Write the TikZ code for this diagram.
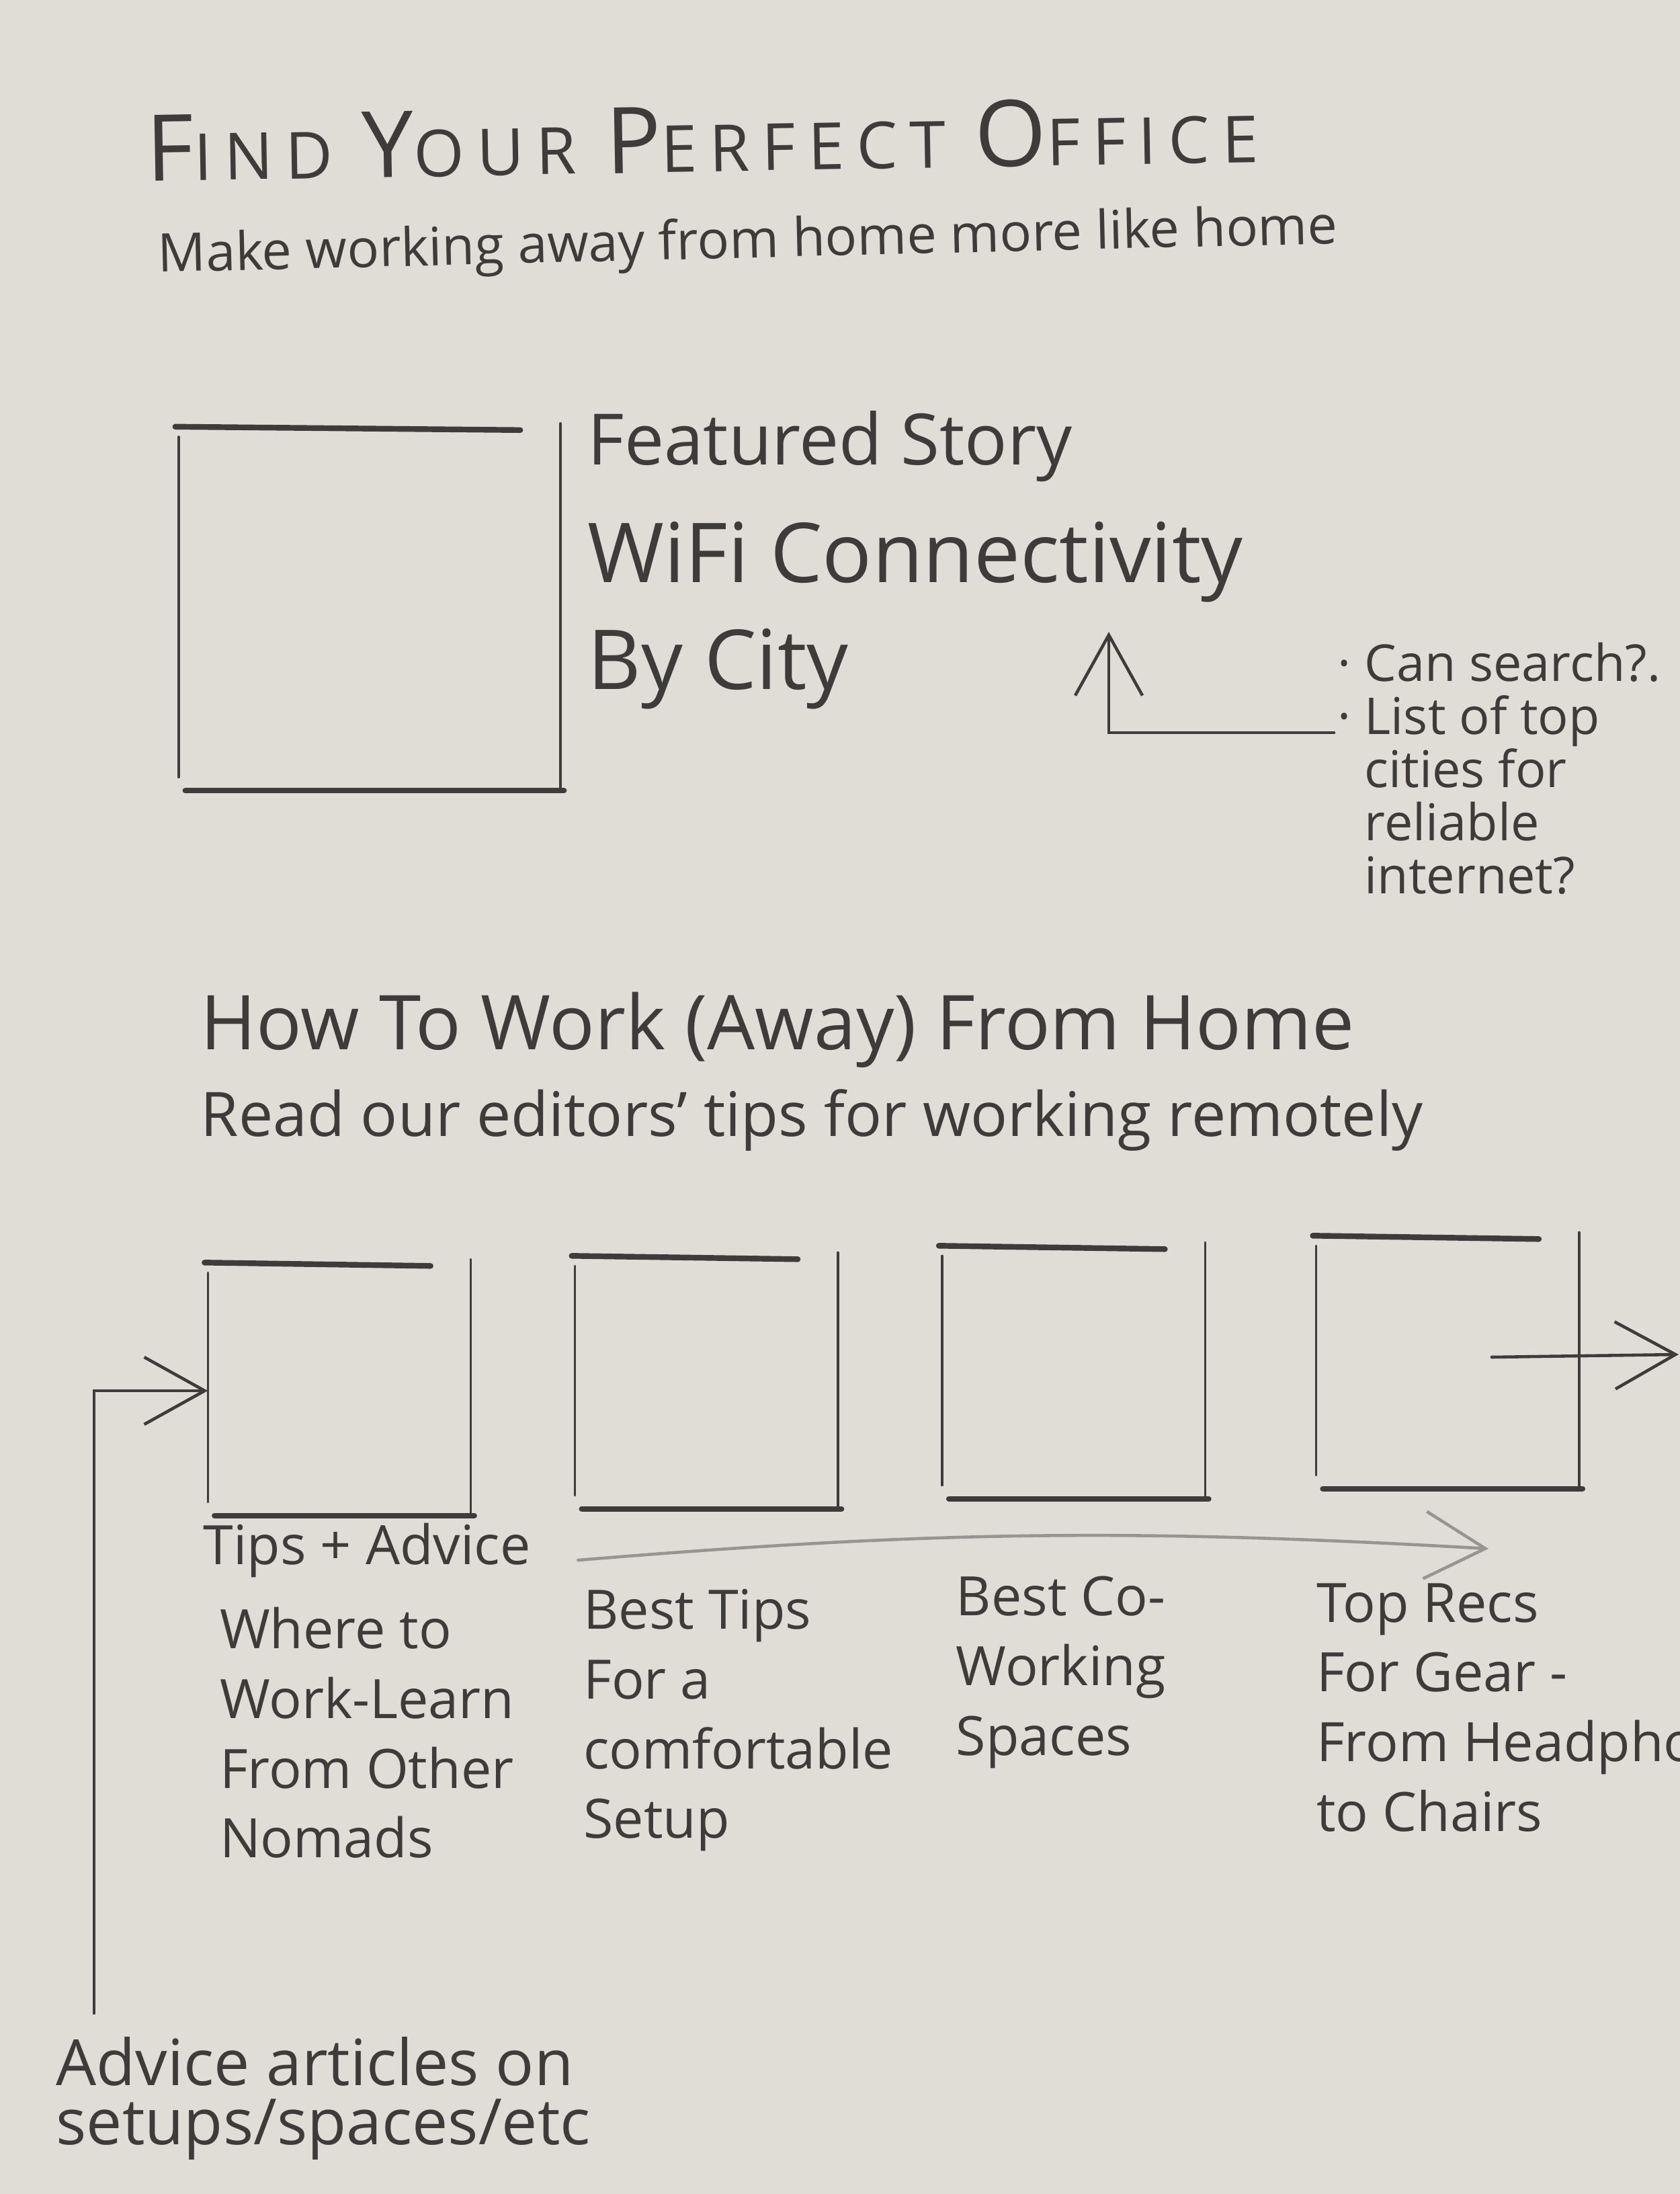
\documentclass[tikz,border=0pt]{standalone}
\usepackage{fontspec}
\setmainfont{Open Sans}
\newfontfamily\spacedfont[LetterSpace=19]{Open Sans}
\usepackage{tikz}
\usetikzlibrary{arrows.meta, positioning}
\definecolor{paper}{RGB}{224,221,214}
\definecolor{pencil}{RGB}{62,60,58}
\newcommand{\bigini}[1]{{\fontsize{39pt}{40pt}\selectfont #1}}
\tikzstyle{hand} = [inner sep=0pt, text=pencil, align=left]
\tikzstyle{titletext} = [hand, font=\spacedfont\fontsize{27.5pt}{30pt}\selectfont]
\tikzstyle{subline} = [hand, font=\fontsize{22.5pt}{26pt}\selectfont]
\tikzstyle{featline} = [hand, font=\fontsize{30pt}{34pt}\selectfont]
\tikzstyle{bigline} = [hand, font=\fontsize{35pt}{45pt}\selectfont]
\tikzstyle{headline} = [hand, font=\fontsize{32pt}{36pt}\selectfont]
\tikzstyle{note} = [hand, font=\fontsize{21.5pt}{22.5pt}\selectfont]
\tikzstyle{caption} = [hand, font=\fontsize{23pt}{29.5pt}\selectfont]
\tikzstyle{imgbox} = [rectangle, minimum width=3.9cm, minimum height=3.7cm, inner sep=0pt]
\tikzstyle{edgeh} = [draw=pencil, line width=2.4pt, line cap=round]
\tikzstyle{edgev} = [draw=pencil, line width=1pt, line cap=round]
\tikzstyle{arrow} = [draw=pencil, line width=1.3pt, line cap=round, ->, >={Straight Barb[length=9mm, width=10mm]}]
\tikzstyle{fadearrow} = [arrow, draw=pencil!45!paper]
% open-cornered pencil frame round an image box
\newcommand{\sketchbox}[1]{%
  \draw[edgeh] ([xshift=-0.5mm,yshift=0.5mm]#1.north west) -- ([xshift=-6mm]#1.north east);
  \draw[edgev] ([yshift=-1mm]#1.north west) -- ([yshift=2mm]#1.south west);
  \draw[edgev] ([yshift=1mm]#1.north east) -- (#1.south east);
  \draw[edgeh] ([xshift=1mm]#1.south west) -- ([xshift=0.5mm]#1.south east);
}

\begin{document}
\begin{tikzpicture}
\useasboundingbox (0,0) rectangle (25,-32.64);
\fill[paper] (0,0) rectangle (25,-32.64);

% header
\node (title) [titletext, anchor=base west, rotate=1] at (2.18,-2.70) {\bigini{F}IND \bigini{Y}OUR \bigini{P}ERFECT \bigini{O}FFICE};
\node (subtitle) [subline, anchor=base west, rotate=1.4] at (2.35,-4.05) {Make working away from home more like home};

% featured story
\node (featimg) [imgbox, minimum width=5.67cm, minimum height=5.35cm] at (5.50,-9.08) {};
\sketchbox{featimg}
\node (featlbl) [featline, anchor=base west] at (8.74,-6.91) {Featured Story};
\node (feattitle) [bigline, anchor=north west] at (8.74,-7.76) {WiFi Connectivity\\By City};
\node (searchnote) [note, anchor=north west] at (20.30,-9.55) {\llap{·\ }Can search?.\\\llap{·\ }List of top\\cities for\\reliable\\internet?};
\coordinate (citytip) at (16.50,-9.40);
\draw [arrow] ([xshift=-4.5mm,yshift=-13.5mm]searchnote.north west) -| (citytip);

% how to section
\node (howto) [headline, anchor=base west] at (2.98,-15.61) {How To Work (Away) From Home};
\node (howtosub) [subline, font=\fontsize{26pt}{30pt}\selectfont, anchor=base west] at (2.98,-16.90) {Read our editors' tips for working remotely};

\node (box1) [imgbox] at (5.05,-20.69) {};
\node (box2) [imgbox, right=1.55cm of box1, yshift=1mm] {};
\node (box3) [imgbox, right=1.55cm of box2, yshift=1.5mm] {};
\node (box4) [imgbox, right=1.65cm of box3, yshift=1.5mm] {};
\sketchbox{box1}
\sketchbox{box2}
\sketchbox{box3}
\sketchbox{box4}

\node (tipslbl) [caption, anchor=base west] at (3.02,-23.27) {Tips + Advice};
\node (cap1) [caption, below right=1.36cm and 0.17cm of box1.south west] {Where to\\Work-Learn\\From Other\\Nomads};
\node (cap2) [caption, below right=1.19cm and 0.12cm of box2.south west] {Best Tips\\For a\\comfortable\\Setup};
\node (cap3) [caption, below right=1.15cm and 0.2cm of box3.south west] {Best Co-\\Working\\Spaces};
\node (cap4) [caption, below right=1.4cm and 0cm of box4.south west] {Top Recs\\For Gear -\\From Headphones\\to Chairs};

\coordinate (moreright) at (24.98,-20.15);
\draw [arrow] ([xshift=-1.3cm,yshift=1mm]box4.east) -- (moreright);
\coordinate (tipsend) at (22.15,-23.04);
\draw [fadearrow] ([xshift=7mm,yshift=-1.5mm]tipslbl.east) to[bend left=4] (tipsend);

% side note
\node (advicenote) [note, font=\fontsize{27pt}{25pt}\selectfont, anchor=north west] at (0.83,-30.30) {Advice articles on\\setups/spaces/etc};
\draw [arrow] ([xshift=5.7mm,yshift=3.5mm]advicenote.north west) |- (box1.west);
\end{tikzpicture}
\end{document}
